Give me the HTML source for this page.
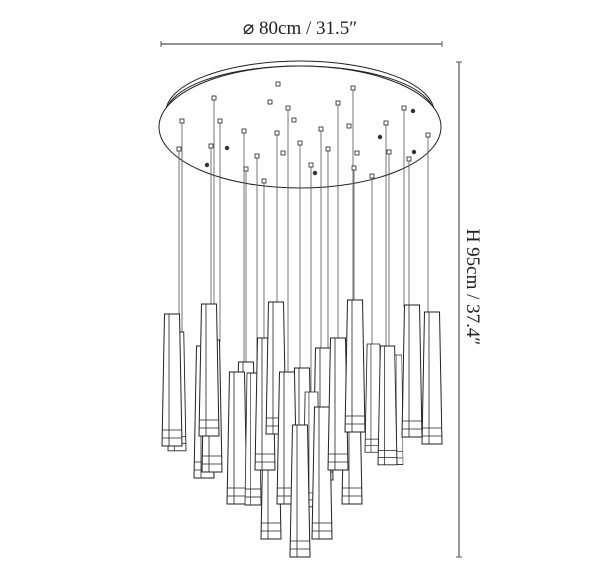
<!DOCTYPE html>
<html><head><meta charset="utf-8"><style>
html,body{margin:0;padding:0;background:#fff;width:600px;height:578px;overflow:hidden}
svg{display:block}
.w{stroke:#555;stroke-width:0.8}
.d{fill:#fff;stroke:#222;stroke-width:0.8}
.k{fill:#333}
</style></head><body>
<svg width="600" height="578" viewBox="0 0 600 578" xmlns="http://www.w3.org/2000/svg">
<defs>
<g id="P" fill="#fff" stroke="#222"><polygon points="2.5,0 17.5,0 20,132 0,132" stroke-width="1"/><line x1="7" y1="0" x2="7" y2="132" stroke-width="0.8"/><line x1="0.2" y1="116" x2="19.8" y2="116" stroke-width="0.8"/><line x1="0.1" y1="124" x2="19.9" y2="124" stroke-width="0.8"/></g>
</defs>
<!-- dimension top -->
<text x="300" y="34" font-family="Liberation Serif, serif" font-size="19" text-anchor="middle" fill="#222">⌀ 80cm / 31.5″</text>
<line x1="161" y1="44" x2="442" y2="44" stroke="#555" stroke-width="1.2"/>
<line x1="161" y1="41" x2="161" y2="47" stroke="#555"/><line x1="442" y1="41" x2="442" y2="47" stroke="#555"/>
<!-- dimension right -->
<line x1="459" y1="62" x2="459" y2="557" stroke="#555" stroke-width="1.2"/>
<line x1="456" y1="62" x2="462" y2="62" stroke="#555"/><line x1="456" y1="557" x2="462" y2="557" stroke="#555"/>
<text transform="translate(467,287) rotate(90)" font-family="Liberation Serif, serif" font-size="19" text-anchor="middle" fill="#222">H 95cm / 37.4″</text>
<!-- canopy -->
<ellipse cx="300" cy="112" rx="134" ry="51" fill="#fff" stroke="#222" stroke-width="1"/>
<path d="M166,114 A134,48 0 0 1 434,114" fill="none" stroke="#222" stroke-width="1"/>
<ellipse cx="300" cy="127" rx="141" ry="61" fill="#fff" stroke="#222" stroke-width="1"/>
<!-- wires -->
<g class="w">
<line x1="179" y1="149" x2="179" y2="316"/><line x1="182" y1="121" x2="182" y2="334"/>
<line x1="214" y1="98" x2="214" y2="306"/><line x1="211" y1="146" x2="211" y2="342"/>
<line x1="244" y1="131" x2="244" y2="362"/><line x1="257" y1="156" x2="257" y2="375"/>
<line x1="264" y1="181" x2="264" y2="340"/><line x1="277" y1="133" x2="277" y2="303"/>
<line x1="288" y1="108" x2="288" y2="374"/><line x1="300" y1="143" x2="300" y2="370"/>
<line x1="321" y1="129" x2="321" y2="350"/><line x1="328" y1="149" x2="328" y2="409"/>
<line x1="311" y1="165" x2="311" y2="394"/><line x1="338" y1="103" x2="338" y2="340"/>
<line x1="353" y1="88" x2="353" y2="302"/><line x1="372" y1="176" x2="372" y2="346"/>
<line x1="386" y1="123" x2="386" y2="348"/><line x1="389" y1="152" x2="389" y2="348"/>
<line x1="404" y1="108" x2="404" y2="307"/><line x1="409" y1="159" x2="409" y2="307"/>
<line x1="428" y1="135" x2="428" y2="314"/><line x1="354" y1="168" x2="354" y2="374"/>
<line x1="246" y1="169" x2="246" y2="374"/><line x1="220" y1="121" x2="220" y2="342"/>
</g>
<!-- dots -->
<g class="d">
<rect x="276" y="82" width="4" height="4"/><rect x="351" y="86" width="4" height="4"/><rect x="212" y="96" width="4" height="4"/>
<rect x="268" y="100" width="4" height="4"/><rect x="336" y="101" width="4" height="4"/><rect x="286" y="106" width="4" height="4"/>
<rect x="402" y="106" width="4" height="4"/><rect x="180" y="119" width="4" height="4"/><rect x="218" y="119" width="4" height="4"/>
<rect x="292" y="118" width="4" height="4"/><rect x="384" y="121" width="4" height="4"/><rect x="242" y="129" width="4" height="4"/>
<rect x="319" y="127" width="4" height="4"/><rect x="347" y="124" width="4" height="4"/><rect x="275" y="131" width="4" height="4"/>
<rect x="426" y="133" width="4" height="4"/><rect x="177" y="147" width="4" height="4"/><rect x="209" y="144" width="4" height="4"/>
<rect x="298" y="141" width="4" height="4"/><rect x="326" y="147" width="4" height="4"/><rect x="387" y="150" width="4" height="4"/>
<rect x="255" y="154" width="4" height="4"/><rect x="281" y="151" width="4" height="4"/><rect x="355" y="151" width="4" height="4"/>
<rect x="309" y="163" width="4" height="4"/><rect x="352" y="166" width="4" height="4"/><rect x="407" y="157" width="4" height="4"/>
<rect x="244" y="167" width="4" height="4"/><rect x="370" y="174" width="4" height="4"/><rect x="262" y="179" width="4" height="4"/>
</g>
<g class="k">
<circle cx="413" cy="111" r="2.2"/><circle cx="380" cy="137" r="2.2"/><circle cx="227" cy="148" r="2.2"/>
<circle cx="414" cy="152" r="2.2"/><circle cx="207" cy="165" r="2.2"/><circle cx="315" cy="173" r="2.2"/>
</g>
<!-- pendants back to front -->
<use href="#P" transform="translate(236,362)"/>
<use href="#P" transform="translate(292,368)"/>
<use href="#P" transform="translate(313,348)"/>
<use href="#P" transform="translate(168,332) scale(0.9,0.9)"/>
<use href="#P" transform="translate(194,346)"/>
<use href="#P" transform="translate(393,355) scale(0.5,0.83)"/>
<use href="#P" transform="translate(342,372)"/>
<use href="#P" transform="translate(261,407)"/>
<use href="#P" transform="translate(303,392) scale(0.85,0.87)"/>
<use href="#P" transform="translate(162,314)"/>
<use href="#P" transform="translate(202,340)"/>
<use href="#P" transform="translate(199,304)"/>
<use href="#P" transform="translate(227,372)"/>
<use href="#P" transform="translate(245,373) scale(0.8,1)"/>
<use href="#P" transform="translate(255,338)"/>
<use href="#P" transform="translate(266,302)"/>
<use href="#P" transform="translate(277,372)"/>
<use href="#P" transform="translate(290,425)"/>
<use href="#P" transform="translate(312,407)"/>
<use href="#P" transform="translate(328,338)"/>
<use href="#P" transform="translate(345,300)"/>
<use href="#P" transform="translate(365,344) scale(0.85,0.82)"/>
<use href="#P" transform="translate(378,346) scale(0.95,0.9)"/>
<use href="#P" transform="translate(402,305)"/>
<use href="#P" transform="translate(422,312)"/>
</svg>
</body></html>
